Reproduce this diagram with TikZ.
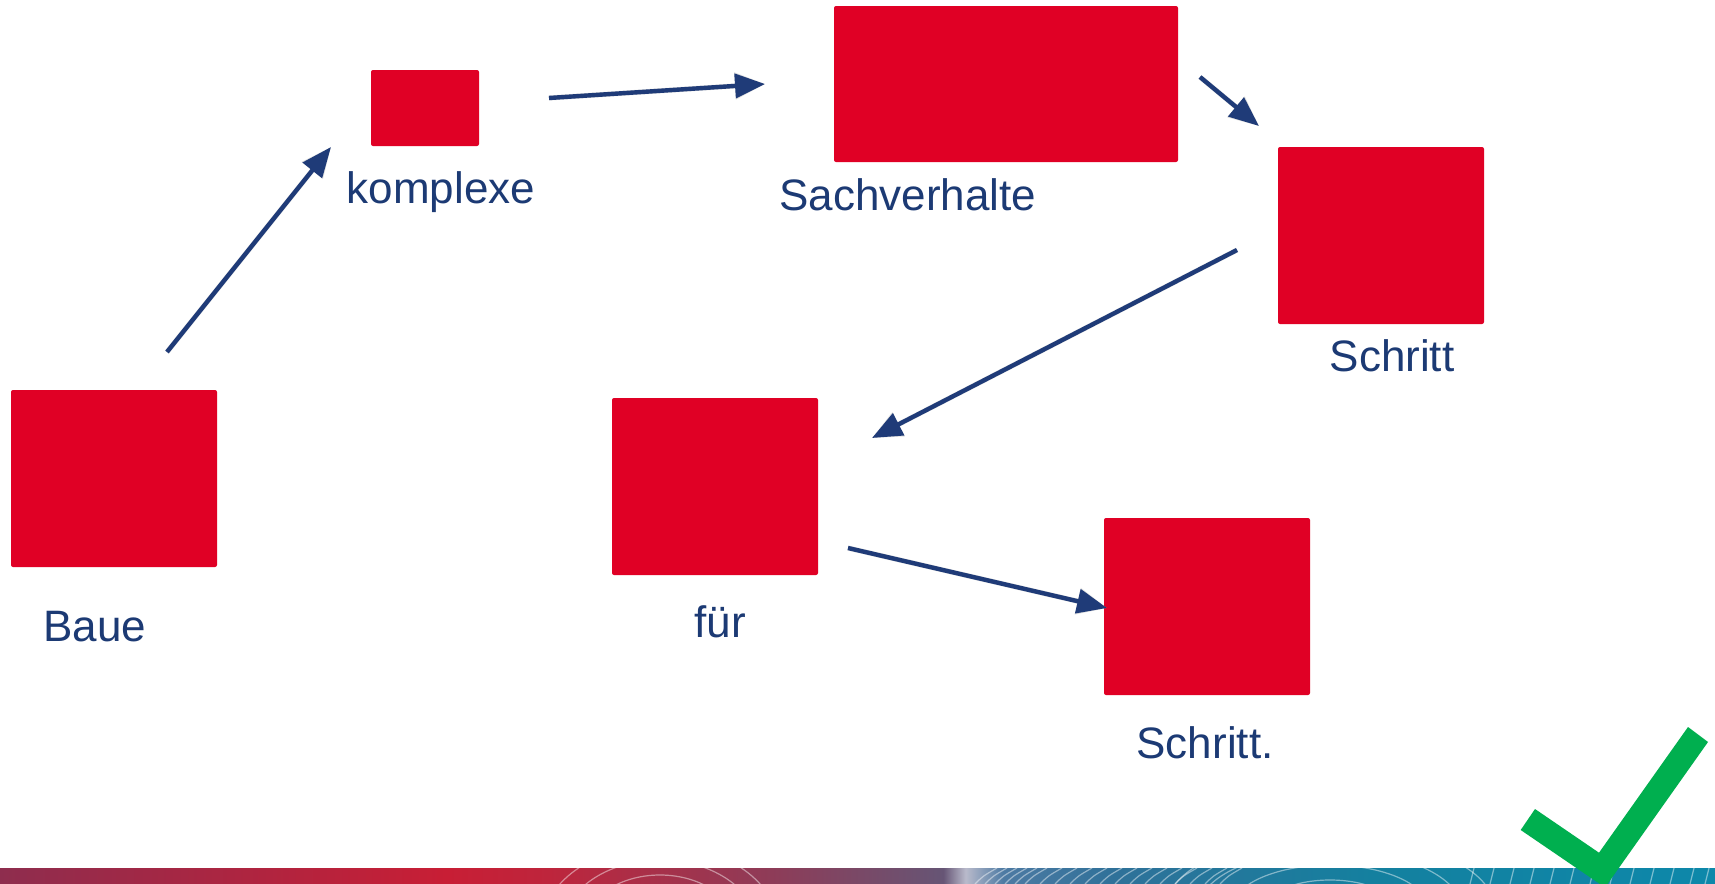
\documentclass[tikz,border=0pt]{standalone}
\usepackage{fontspec}
\setmainfont{Liberation Sans}
\usetikzlibrary{arrows.meta}
\definecolor{boxred}{HTML}{E00025}
\definecolor{navy}{HTML}{1C3A74}
\definecolor{arrownavy}{HTML}{1F3B78}
\definecolor{checkgreen}{HTML}{00AF4F}
\definecolor{b1}{HTML}{8E2D4E}
\definecolor{b2}{HTML}{C81E35}
\definecolor{b3}{HTML}{BE253C}
\definecolor{b4}{HTML}{8E3C58}
\definecolor{b5}{HTML}{665575}
\definecolor{b6}{HTML}{B9BACB}
\definecolor{b7}{HTML}{4D7AA3}
\definecolor{b8}{HTML}{2F7199}
\definecolor{b9}{HTML}{14809F}
\definecolor{b10}{HTML}{0D88AA}
\pgfdeclarehorizontalshading{barshade}{100bp}{color(0bp)=(b1); color(25bp)=(b1); color(38bp)=(b2); color(41bp)=(b3); color(47.5bp)=(b4); color(52.5bp)=(b5); color(53.15bp)=(b6); color(54.25bp)=(b7); color(57.5bp)=(b8); color(65bp)=(b9); color(75bp)=(b10); color(100bp)=(b10)}
\tikzset{
  redbox/.style={fill=boxred, draw=none, rounded corners=1pt, inner sep=0pt},
  lbl/.style={text=navy, font=\fontsize{22}{26}\selectfont, inner sep=0pt, anchor=center},
  conn/.style={draw=arrownavy, line width=2.2pt, -{Triangle[length=15pt,width=12pt]}},
  connshadow/.style={draw=black!25, opacity=0.5, line width=2.5pt, -{Triangle[length=15pt,width=13pt]}}
}
\begin{document}
\begin{tikzpicture}[x=0.5pt,y=-0.5pt]
\useasboundingbox (0,0) rectangle (1715,884);
\fill[white] (0,0) rectangle (1715,884);
% boxes
\node[redbox, minimum width=103pt, minimum height=88.5pt] (baue) at (114,478.5) {};
\node[redbox, minimum width=54pt, minimum height=38pt] (komplexe) at (425,108) {};
\node[redbox, minimum width=172pt, minimum height=78pt] (sach) at (1006,84) {};
\node[redbox, minimum width=103pt, minimum height=88.5pt] (schritt) at (1381,235.5) {};
\node[redbox, minimum width=103pt, minimum height=88.5pt] (fuer) at (715,486.5) {};
\node[redbox, minimum width=103pt, minimum height=88.5pt] (schritt2) at (1207,606.5) {};
% labels
\node[lbl] (lbaue) at (95,627) {Baue};
\node[lbl] (lkomplexe) at (441,192) {komplexe};
\node[lbl] (lsach) at (908,195) {Sachverhalte};
\node[lbl] (lschritt) at (1392,356) {Schritt};
\node[lbl] (lfuer) at (720,622) {für};
\node[lbl] (lschritt2) at (1205,743) {Schritt.};
% connector end points
\coordinate (a1s) at (167,352); \coordinate (a1e) at (331,147);
\coordinate (a2s) at (549,98);  \coordinate (a2e) at (765,84);
\coordinate (a3s) at (1200,77); \coordinate (a3e) at (1259,126);
\coordinate (a4s) at (1237,250); \coordinate (a4e) at (872,438);
\coordinate (a5s) at (848,548); \coordinate (a5e) at (1107,608);
% shadows
\begin{scope}[shift={(3,4)}]
\foreach \s/\e in {a1s/a1e,a2s/a2e,a3s/a3e,a4s/a4e,a5s/a5e}
  \draw[connshadow] (\s) -- (\e);
\end{scope}
% connectors
\draw[conn] (a1s) -- (a1e);
\draw[conn] (a2s) -- (a2e);
\draw[conn] (a3s) -- (a3e);
\draw[conn] (a4s) -- (a4e);
\draw[conn] (a5s) -- (a5e);
% bottom bar
\shade[shading=barshade] (0,868) rectangle (1715,884);
\begin{scope}
\clip (0,868) rectangle (1715,884);
\begin{scope}[draw=white, opacity=0.45, line width=0.6pt]
\foreach \r in {40,55,70,85} {
  \draw (660,930) ellipse ({\r*1.4} and \r);
}
\foreach \xx in {975,985,995,1005,1015,1025,1040,1055,1070,1085,1100,1115,1130,1145,1160,1175,1190,1205,1220}
  \draw (\xx,884) .. controls (\xx+8,876) .. (\xx+22,868);
\foreach \r in {30,45,60,75} {
  \draw (1330,910) ellipse ({\r*2.2} and \r);
}
\foreach \xx in {1470,1490,1510,1530,1550,1570,1590,1610,1630,1650,1670,1690,1705}
  \draw (\xx,884) .. controls (\xx+2,876) .. (\xx+4,868);
\end{scope}
\end{scope}
% check mark
\fill[checkgreen] (1520.7,830) -- (1535,809) -- (1599,852.7) -- (1688,727) -- (1708,742) -- (1605,887.5) -- cycle;
\end{tikzpicture}
\end{document}
